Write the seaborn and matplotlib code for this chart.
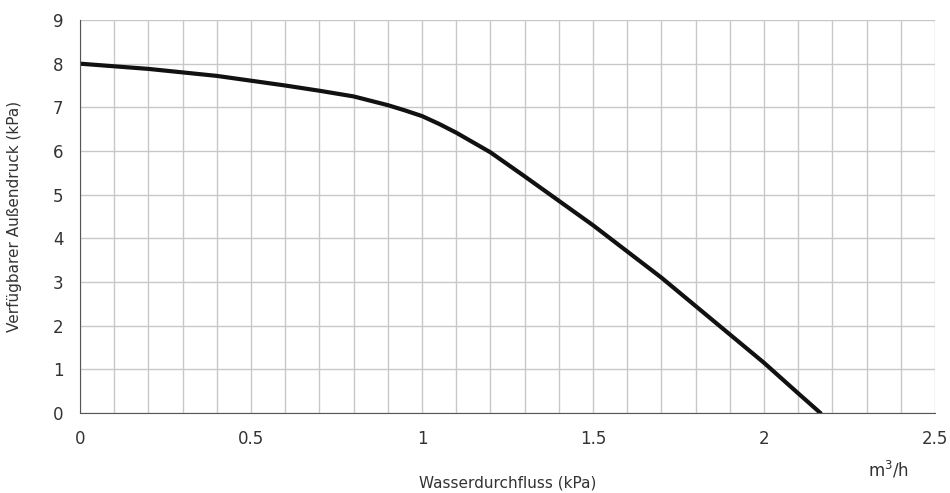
import matplotlib
matplotlib.use("Agg")
import matplotlib.pyplot as plt
import seaborn as sns
import numpy as np

flow = [0, 0.2, 0.4, 0.6, 0.7, 0.8, 0.9, 0.95, 1.0, 1.05, 1.1, 1.2, 1.3, 1.4, 1.5, 1.6, 1.7, 1.8, 1.9, 2.0, 2.1, 2.165]
pressure = [8.0, 7.88, 7.72, 7.5, 7.38, 7.25, 7.05, 6.93, 6.8, 6.62, 6.42, 5.97, 5.42, 4.86, 4.3, 3.7, 3.1, 2.45, 1.8, 1.15, 0.45, 0.0]
xticks = [0, 0.5, 1, 1.5, 2, 2.5]
xticklabels = ["0", "0.5", "1", "1.5", "2", "2.5"]
yticks = list(range(10))

sns.set_style("white")
plt.rcParams['font.family'] = ['DejaVu Sans']
fig = plt.figure(figsize=(9.5, 4.93), dpi=100)
ax = fig.add_axes([80/950, 1-413/493, 855/950, 393/493])
sns.lineplot(x=flow, y=pressure, ax=ax, color="#111111", linewidth=3)
ax.set_xlim(0, 2.5)
ax.set_ylim(0, 9)
ax.set_xticks(np.arange(0, 2.501, 0.1), minor=True)
ax.set_xticks(xticks)
ax.set_xticklabels(xticklabels)
ax.set_yticks(yticks)
ax.grid(True, which="both", color="#c8c8c8", linewidth=1)
ax.set_axisbelow(True)
for s in ["top", "right"]:
    ax.spines[s].set_visible(False)
for s in ["left", "bottom"]:
    ax.spines[s].set_color("#555555")
ax.tick_params(axis="both", which="both", length=0, labelsize=12, colors="#333333", pad=12)
ax.set_xlabel("Wasserdurchfluss (kPa)", fontsize=11, color="#333333", labelpad=20)
ax.set_ylabel("Verfügbarer Außendruck (kPa)", fontsize=11, color="#333333", labelpad=22)
fig.text(868/950, 1-470/493, "m$^3$/h", fontsize=12, color="#333333", va="center")
fig.savefig("out.png", dpi=100)
